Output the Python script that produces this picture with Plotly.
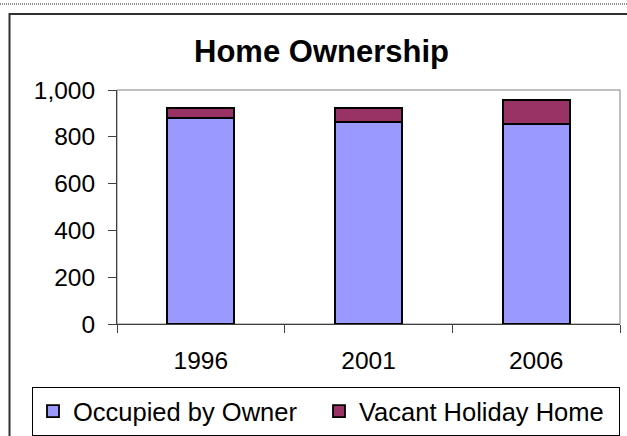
import plotly.graph_objects as go

# data
years = ["1996", "2001", "2006"]
occupied_by_owner = [880, 863, 856]
vacant_holiday_home = [43, 60, 101]
y_ticks = [0, 200, 400, 600, 800, 1000]

W, H = 627, 436
# plot area in pixels
PL, PR, PT, PB = 117, 620, 90, 324
FONT = "Liberation Sans, Arial, sans-serif"


def px_x(x):
    return (x - PL) / (PR - PL)


def px_y(y):
    return (PB - y) / (PB - PT)


fig = go.Figure()
fig.add_trace(go.Bar(
    x=years, y=occupied_by_owner, name="Occupied by Owner",
    marker=dict(color="#9999FF", line=dict(color="black", width=1.8)),
    legendwidth=241,
))
fig.add_trace(go.Bar(
    x=years, y=vacant_holiday_home, name="Vacant Holiday Home",
    marker=dict(color="#993366", line=dict(color="black", width=1.8)),
    legendwidth=255,
))

fig.update_layout(
    width=W, height=H,
    barmode="stack", bargap=0.6,
    plot_bgcolor="white", paper_bgcolor="white",
    margin=dict(l=PL, r=W - PR, t=PT, b=H - PB, pad=0, autoexpand=False),
    font=dict(family=FONT, color="black", size=24),
    title=dict(
        text="<b>Home Ownership</b>",
        font=dict(family=FONT, size=31, color="black"),
        xref="container", x=321.5 / W, xanchor="center",
        yref="container", y=1 - 51 / H, yanchor="middle",
    ),
    legend=dict(
        orientation="h",
        x=px_x(32), y=px_y(387), xanchor="left", yanchor="top",
        bordercolor="black", borderwidth=1,
        font=dict(family=FONT, size=25.5, color="black"),
        traceorder="normal",
    ),
    showlegend=True,
)

fig.update_xaxes(
    showgrid=False, showline=True, linecolor="#404040", linewidth=1,
    ticks="outside", tickson="boundaries", ticklen=8, tickcolor="#404040",
    tickfont=dict(size=24.5), ticklabelstandoff=15,
)
fig.update_yaxes(
    range=[0, 1000], tickvals=y_ticks, tickformat=",",
    showgrid=False, showline=True, linecolor="#404040", linewidth=1,
    ticks="outside", ticklen=8, tickcolor="#404040",
    tickfont=dict(size=24.5), ticklabelstandoff=8, zeroline=False,
)

# plot area border (gray)
fig.add_shape(type="rect", xref="paper", yref="paper", x0=0, x1=1, y0=0, y1=1,
              line=dict(color="#808080", width=1), layer="below")
# chart outer border
fig.add_shape(type="rect", xref="paper", yref="paper",
              x0=px_x(9.5), x1=px_x(630), y0=px_y(14), y1=px_y(445),
              line=dict(color="#303030", width=2))
# dotted line along the top edge
fig.add_shape(type="line", xref="paper", yref="paper",
              x0=px_x(0), x1=px_x(627), y0=px_y(4), y1=px_y(4),
              line=dict(color="#909090", width=2, dash="1px,1px"))

# drop the page's default body margin so the figure sits at the window origin
fig.write_html(
    "out.html",
    config=dict(displayModeBar=False),
    post_script="document.body.style.margin = '0';",
)
